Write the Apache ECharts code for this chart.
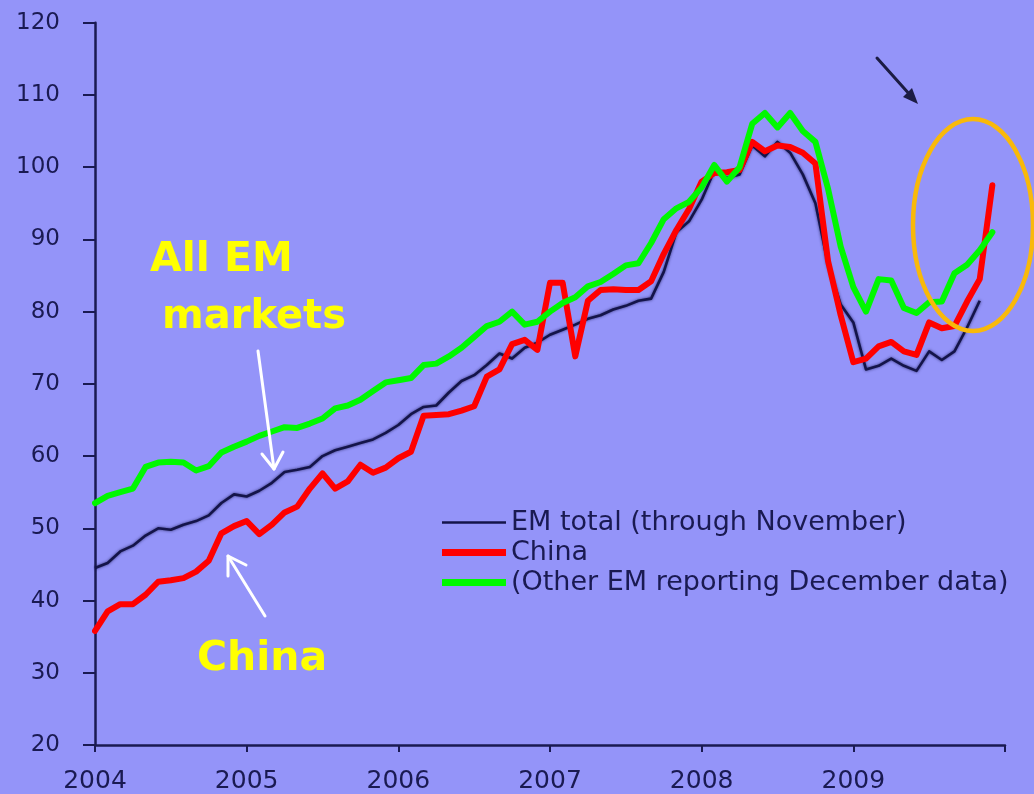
<!DOCTYPE html>
<html>
<head>
<meta charset="utf-8">
<script src="https://cdn.jsdelivr.net/npm/echarts@6/dist/echarts.min.js"></script>
<style>
  html, body { margin: 0; padding: 0; background: #9494f9; }
  #chart { width: 1034px; height: 794px; }
</style>
</head>
<body>
<div id="chart"></div>
<script>
// Monthly index levels, January 2004 onwards
const startYear = 2004;
const seriesNames = ['EM total (through November)', 'China', '(Other EM reporting December data)'];

// EM total, Jan 2004 - Nov 2009
const emTotal = [
  44.5, 45.2, 46.8, 47.6, 49.0, 50.0, 49.8, 50.5, 51.0, 51.8, 53.5, 54.7,
  54.4, 55.2, 56.3, 57.8, 58.1, 58.5, 60.0, 60.8, 61.3, 61.8, 62.3, 63.2,
  64.3, 65.8, 66.8, 67.0, 68.8, 70.4, 71.2, 72.6, 74.2, 73.5, 75.0, 75.7,
  76.8, 77.5, 78.2, 79.0, 79.5, 80.3, 80.8, 81.5, 81.8, 85.5, 91.0, 92.5,
  95.5, 99.5, 98.5, 99.0, 103.0, 101.5, 103.5, 102.0, 99.0, 95.0, 86.5, 81.0,
  78.5, 72.0, 72.5, 73.5, 72.5, 71.8, 74.5, 73.3, 74.5, 77.8, 81.5
];

// China, Jan 2004 - Dec 2009
const china = [
  35.8, 38.5, 39.5, 39.5, 40.8, 42.6, 42.8, 43.1, 44.0, 45.5, 49.3, 50.3,
  51.0, 49.2, 50.5, 52.2, 53.0, 55.5, 57.6, 55.5, 56.5, 58.8, 57.7, 58.4,
  59.7, 60.6, 65.6, 65.7, 65.8, 66.3, 66.9, 71.0, 72.0, 75.5, 76.1, 74.7,
  84.0, 84.0, 73.8, 81.5, 83.0, 83.1, 83.0, 83.0, 84.2, 88.0, 91.3, 94.2,
  98.0, 99.2, 99.3, 99.6, 103.5, 102.2, 103.0, 102.8, 102.0, 100.5, 87.0, 79.5,
  73.0, 73.5, 75.2, 75.8, 74.5, 74.0, 78.5, 77.7, 78.0, 81.4, 84.5, 97.5
];

// Other EM reporting December data, Jan 2004 - Dec 2009
const otherEM = [
  53.5, 54.5, 55.0, 55.5, 58.5, 59.1, 59.2, 59.1, 58.0, 58.6, 60.5, 61.3,
  62.0, 62.8, 63.4, 64.0, 63.9, 64.5, 65.2, 66.6, 67.0, 67.8, 69.0, 70.2,
  70.5, 70.8, 72.6, 72.8, 73.8, 75.0, 76.5, 78.0, 78.6, 80.0, 78.2, 78.6,
  80.0, 81.2, 82.0, 83.5, 84.1, 85.2, 86.4, 86.7, 89.5, 92.8, 94.3, 95.2,
  97.2, 100.3, 98.0, 100.0, 106.0, 107.5, 105.5, 107.5, 105.0, 103.5, 97.0, 89.0,
  83.4, 80.0, 84.5, 84.3, 80.5, 79.8, 81.3, 81.4, 85.3, 86.5, 88.5, 91.0
];

const yMin = 20, yMax = 120, yStep = 10;
const xMin = 2004, xMax = 2010, xStep = 1;

function toPoints(values) {
  return values.map((v, i) => [startYear + i / 12, v]);
}

const navy = '#1a1a52';
const font = 'DejaVu Sans';

const chart = echarts.init(document.getElementById('chart'), null, { renderer: 'canvas' });

chart.setOption({
  backgroundColor: '#9494f9',
  animation: false,
  grid: { left: 95, top: 22.7, right: 29, bottom: 49, containLabel: false },
  xAxis: {
    type: 'value',
    min: xMin, max: xMax, interval: xStep,
    axisLine: { show: true, lineStyle: { color: navy, width: 2.5 } },
    axisTick: { show: true, length: 7, lineStyle: { color: navy, width: 2 } },
    splitLine: { show: false },
    axisLabel: {
      color: navy, fontFamily: font, fontSize: 25, margin: 24,
      formatter: v => (v >= xMax ? '' : String(v))
    }
  },
  yAxis: {
    type: 'value',
    min: yMin, max: yMax, interval: yStep,
    axisLine: { show: true, lineStyle: { color: navy, width: 2.5 } },
    axisTick: { show: true, length: 12, lineStyle: { color: navy, width: 2 } },
    splitLine: { show: false },
    axisLabel: { color: navy, fontFamily: font, fontSize: 23, margin: 35 }
  },
  legend: {
    orient: 'vertical',
    left: 437, top: 504,
    itemWidth: 64, itemHeight: 7, itemGap: 3,
    itemStyle: { borderWidth: 0 },
    textStyle: { color: navy, fontFamily: font, fontSize: 27 },
    data: [
      { name: seriesNames[0], icon: 'path://M0,0M0,6M0,1.8H60V4.2H0Z' },
      { name: seriesNames[1], icon: 'rect' },
      { name: seriesNames[2], icon: 'rect' }
    ]
  },
  series: [
    {
      name: seriesNames[0], type: 'line', data: toPoints(emTotal),
      symbol: 'none', z: 2, color: '#14144a',
      lineStyle: { width: 2.6, color: '#14144a', join: 'round', shadowBlur: 3, shadowColor: 'rgba(10,10,60,0.7)' }
    },
    {
      name: seriesNames[1], type: 'line', data: toPoints(china),
      symbol: 'none', z: 3, color: '#ff0000',
      lineStyle: { width: 6, color: '#ff0000', join: 'round', cap: 'round' }
    },
    {
      name: seriesNames[2], type: 'line', data: toPoints(otherEM),
      symbol: 'none', z: 4, color: '#00f800',
      lineStyle: { width: 6, color: '#00f800', join: 'round', cap: 'round' }
    }
  ],
  graphic: [
    { type: 'text', x: 150, y: 260, z: 10,
      style: { text: 'All EM', fill: '#ffff00', font: 'bold 41px "DejaVu Sans"', verticalAlign: 'middle' } },
    { type: 'text', x: 162, y: 318, z: 10,
      style: { text: 'markets', fill: '#ffff00', font: 'bold 40px "DejaVu Sans"', verticalAlign: 'middle' } },
    { type: 'text', x: 197, y: 659, z: 10,
      style: { text: 'China', fill: '#ffff00', font: 'bold 41px "DejaVu Sans"', verticalAlign: 'middle' } },
    // pointer to the EM total line
    { type: 'polyline', z: 10, shape: { points: [[258, 351], [274, 469]] },
      style: { stroke: '#ffffff', lineWidth: 3, lineCap: 'round' } },
    { type: 'polyline', z: 10, shape: { points: [[262, 454], [274, 469], [283, 452]] },
      style: { stroke: '#ffffff', lineWidth: 3, lineCap: 'round', lineJoin: 'round', fill: null } },
    // pointer to the China line
    { type: 'polyline', z: 10, shape: { points: [[265, 616], [228, 556]] },
      style: { stroke: '#ffffff', lineWidth: 3, lineCap: 'round' } },
    { type: 'polyline', z: 10, shape: { points: [[228, 576], [228, 556], [246, 565]] },
      style: { stroke: '#ffffff', lineWidth: 3, lineCap: 'round', lineJoin: 'round', fill: null } },
    // dark arrow towards the late-2009 rebound
    { type: 'polyline', z: 10, shape: { points: [[877, 58], [911, 96]] },
      style: { stroke: '#1c1c44', lineWidth: 3, lineCap: 'round' } },
    { type: 'polygon', z: 10, shape: { points: [[918, 104], [903, 97], [912, 88]] },
      style: { fill: '#1c1c44' } },
    // highlight ring
    { type: 'ellipse', z: 10, shape: { cx: 973, cy: 225, rx: 60, ry: 106 },
      style: { stroke: '#f9b90a', lineWidth: 4.5, fill: null } }
  ]
});
</script>
</body>
</html>
